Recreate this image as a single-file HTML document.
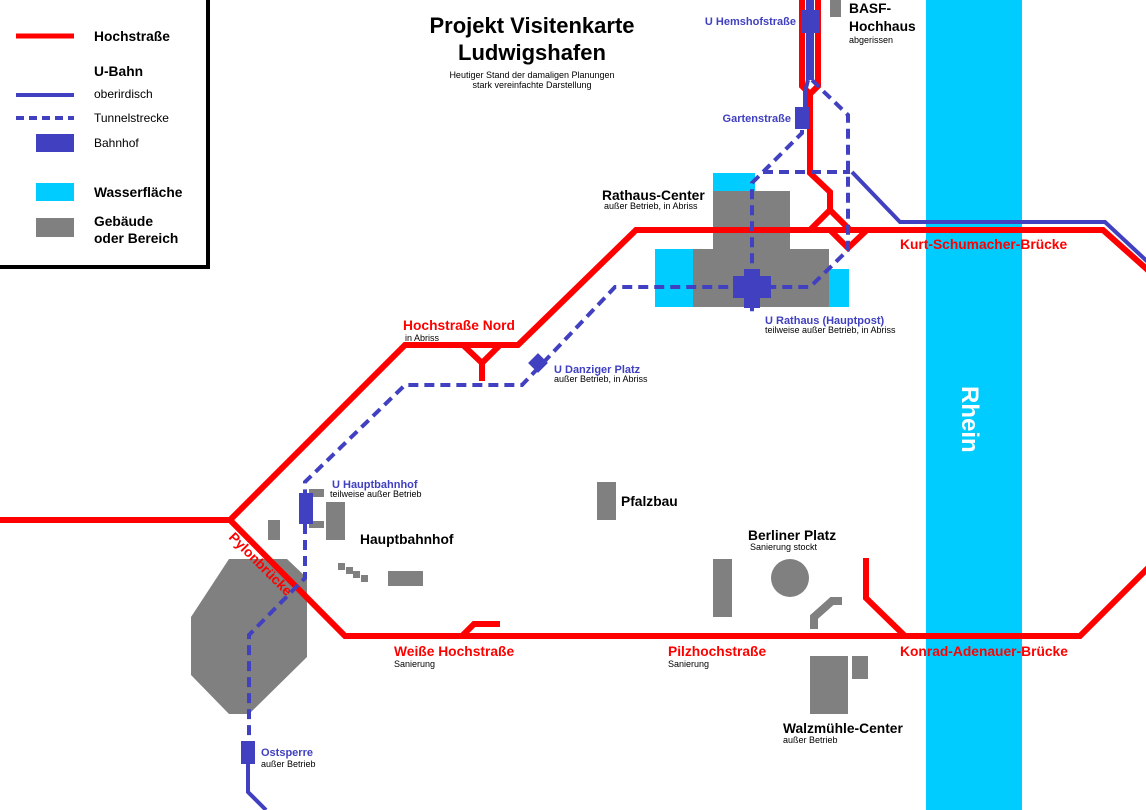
<!DOCTYPE html>
<html><head><meta charset="utf-8"><style>
html,body{margin:0;padding:0;background:#fff;}
svg{display:block;font-family:"Liberation Sans",Arial,sans-serif;font-weight:bold;}
.s{font-size:9px;font-weight:normal;fill:#000}
.b{fill:#4040c0;font-size:11px}
.r{fill:#ff0000;font-size:13.8px}
.k{fill:#000;font-size:13.8px}
</style></head><body>
<svg width="1146" height="810" viewBox="0 0 1146 810" xmlns="http://www.w3.org/2000/svg">
<rect x="926" y="0" width="96" height="810" fill="#00ccff"/>
<text x="0" y="0" transform="translate(962,386) rotate(90)" fill="#fff" font-size="24">Rhein</text>

<g fill="#808080">
<rect x="830" y="0" width="11" height="17"/>
<rect x="713" y="191" width="77" height="58"/>
<rect x="693" y="249" width="136" height="58"/>
<rect x="597" y="482" width="19" height="38"/>
<rect x="268" y="520" width="12" height="20"/>
<rect x="309" y="489" width="15" height="8"/>
<rect x="309" y="521" width="15" height="7"/>
<rect x="326" y="502" width="19" height="38"/>
<rect x="338" y="563" width="7" height="7"/>
<rect x="346" y="567" width="7" height="7"/>
<rect x="353" y="571" width="7" height="7"/>
<rect x="361" y="575" width="7" height="7"/>
<rect x="388" y="571" width="35" height="15"/>
<polygon points="229,559 287,559 307,578 307,657 249,714 229,714 191,675 191,617"/>
<rect x="713" y="559" width="19" height="58"/>
<circle cx="790" cy="578" r="19"/>
<rect x="810" y="656" width="38" height="58"/>
<rect x="852" y="656" width="16" height="23"/>
</g>
<polyline points="814,629 814,617 832,601 842,601" fill="none" stroke="#808080" stroke-width="8"/>
<g fill="#00ccff">
<rect x="713" y="173" width="42" height="18"/>
<rect x="655" y="249" width="38" height="58"/>
<rect x="829" y="269" width="20" height="38"/>
</g>

<g fill="none" stroke="#ff0000" stroke-width="6" stroke-linejoin="miter">
<polyline points="0,520 230,520 405,345 518,345 636,230 1103,230 1150,272"/>
<polyline points="230,520 345,636 1080,636 1150,566"/>
<polyline points="463,345 482,363 500,345"/>
<line x1="482" y1="362" x2="482" y2="381"/>
<polyline points="462,636 474,624 500,624"/>
<polyline points="866,558 866,598 905,636"/>
<polyline points="802,0 802,86 810,94 818,86 818,0"/>
<polyline points="810,94 810,173 830,192 830,210"/>
<polyline points="810,230 830,210 850,230"/>
<polyline points="830,230 848,248 867,230"/>
</g>

<g fill="none" stroke="#4040c0" stroke-width="4">
<line x1="808" y1="0" x2="808" y2="80"/>
<line x1="812" y1="0" x2="812" y2="80"/>
<polyline points="808,80 805,92 805,108"/>
<polyline points="852,172 900,222 1105,222 1150,264"/>
<polyline points="248,762 248,792 266,810"/>
</g>
<g fill="none" stroke="#4040c0" stroke-width="4" stroke-dasharray="10,6">
<polyline points="812,80 822,90 848,115 848,250 810,287 615,287 522,385 405,385 305,482 305,495"/>
<polyline points="802,130 802,133 763,172 752,183 752,312"/>
<line x1="763" y1="172" x2="850" y2="172"/>
<polyline points="305,524 305,578 249,635 249,742"/>
</g>
<g fill="#4040c0">
<rect x="801" y="10" width="18" height="23"/>
<rect x="795" y="107" width="14" height="22"/>
<rect x="733" y="276" width="38" height="22"/>
<rect x="744" y="269" width="16" height="39"/>
<rect x="531" y="356" width="14" height="14" transform="rotate(45 538 363)"/>
<rect x="299" y="493" width="14" height="31"/>
<rect x="241" y="741" width="14" height="23"/>
</g>

<rect x="-4" y="-4" width="212" height="271" fill="none" stroke="#000" stroke-width="4"/>
<line x1="16" y1="36" x2="74" y2="36" stroke="#ff0000" stroke-width="5"/>
<text x="94" y="41" class="k">Hochstraße</text>
<text x="94" y="76" class="k">U-Bahn</text>
<line x1="16" y1="95" x2="74" y2="95" stroke="#4040c0" stroke-width="4"/>
<text x="94" y="98" class="s" style="font-size:12px">oberirdisch</text>
<line x1="16" y1="118" x2="74" y2="118" stroke="#4040c0" stroke-width="4" stroke-dasharray="8,5"/>
<text x="94" y="122" class="s" style="font-size:12px">Tunnelstrecke</text>
<rect x="36" y="134" width="38" height="18" fill="#4040c0"/>
<text x="94" y="147" class="s" style="font-size:12px">Bahnhof</text>
<rect x="36" y="183" width="38" height="18" fill="#00ccff"/>
<text x="94" y="197" class="k">Wasserfläche</text>
<rect x="36" y="218" width="38" height="19" fill="#808080"/>
<text x="94" y="226" class="k">Gebäude</text>
<text x="94" y="243" class="k">oder Bereich</text>

<text x="532" y="33" text-anchor="middle" font-size="22" fill="#000">Projekt Visitenkarte</text>
<text x="532" y="60" text-anchor="middle" font-size="22" fill="#000">Ludwigshafen</text>
<text x="532" y="78" text-anchor="middle" class="s">Heutiger Stand der damaligen Planungen</text>
<text x="532" y="88" text-anchor="middle" class="s">stark vereinfachte Darstellung</text>

<text x="849" y="13" class="k">BASF-</text>
<text x="849" y="31" class="k">Hochhaus</text>
<text x="849" y="43" class="s">abgerissen</text>
<text x="796" y="25" text-anchor="end" class="b">U Hemshofstraße</text>
<text x="791" y="122" text-anchor="end" class="b">Gartenstraße</text>
<text x="602" y="200" class="k">Rathaus-Center</text>
<text x="604" y="209" class="s">außer Betrieb, in Abriss</text>
<text x="900" y="249" class="r">Kurt-Schumacher-Brücke</text>
<text x="765" y="324" class="b">U Rathaus (Hauptpost)</text>
<text x="765" y="333" class="s">teilweise außer Betrieb, in Abriss</text>
<text x="403" y="330" class="r">Hochstraße Nord</text>
<text x="405" y="341" class="s">in Abriss</text>
<text x="554" y="373" class="b">U Danziger Platz</text>
<text x="554" y="382" class="s">außer Betrieb, in Abriss</text>
<text x="332" y="488" class="b">U Hauptbahnhof</text>
<text x="330" y="497" class="s">teilweise außer Betrieb</text>
<text x="360" y="544" class="k">Hauptbahnhof</text>
<text x="621" y="506" class="k">Pfalzbau</text>
<text x="748" y="540" class="k">Berliner Platz</text>
<text x="750" y="550" class="s">Sanierung stockt</text>
<text x="0" y="0" transform="translate(228,538) rotate(45)" class="r">Pylonbrücke</text>
<text x="394" y="656" class="r">Weiße Hochstraße</text>
<text x="394" y="667" class="s">Sanierung</text>
<text x="668" y="656" class="r">Pilzhochstraße</text>
<text x="668" y="667" class="s">Sanierung</text>
<text x="900" y="656" class="r">Konrad-Adenauer-Brücke</text>
<text x="783" y="733" class="k">Walzmühle-Center</text>
<text x="783" y="743" class="s">außer Betrieb</text>
<text x="261" y="756" class="b">Ostsperre</text>
<text x="261" y="767" class="s">außer Betrieb</text>
</svg>
</body></html>
